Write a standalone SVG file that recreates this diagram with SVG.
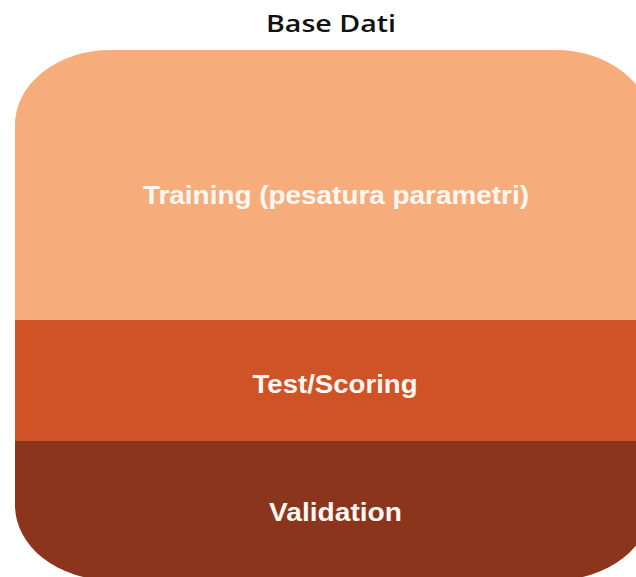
<svg xmlns="http://www.w3.org/2000/svg" width="636" height="577" viewBox="0 0 636 577">
  <defs>
    <!-- rounded outline of the whole data block; the right side runs past the canvas -->
    <clipPath id="block">
      <rect x="15" y="50" width="636" height="530" rx="95" ry="75"/>
    </clipPath>
  </defs>
  <style>
    .band-label { font-family: "Liberation Sans", Arial, sans-serif; font-weight: bold; font-size: 25px; fill: #FFF8F2; text-anchor: middle; }
    .title { font-family: "Open Sans", "Noto Sans", sans-serif; font-weight: 600; font-size: 24px; fill: #111111; text-anchor: middle; }
  </style>
  <rect width="636" height="577" fill="#FFFFFF"/>

  <g id="title">
    <text class="title" x="331" y="32" textLength="130" lengthAdjust="spacingAndGlyphs">Base Dati</text>
  </g>

  <g clip-path="url(#block)">
    <g id="training">
      <rect x="0" y="40" width="660" height="280" fill="#F7AD7B"/>
      <text class="band-label" x="336" y="204" textLength="386" lengthAdjust="spacingAndGlyphs">Training (pesatura parametri)</text>
    </g>
    <g id="test-scoring">
      <rect x="0" y="320" width="660" height="121" fill="#CF5327"/>
      <text class="band-label" x="335" y="393" textLength="165" lengthAdjust="spacingAndGlyphs">Test/Scoring</text>
    </g>
    <g id="validation">
      <rect x="0" y="441" width="660" height="150" fill="#8B361C"/>
      <text class="band-label" x="335.5" y="521" textLength="133" lengthAdjust="spacingAndGlyphs">Validation</text>
    </g>
  </g>

  <g id="connectors"/>
</svg>
